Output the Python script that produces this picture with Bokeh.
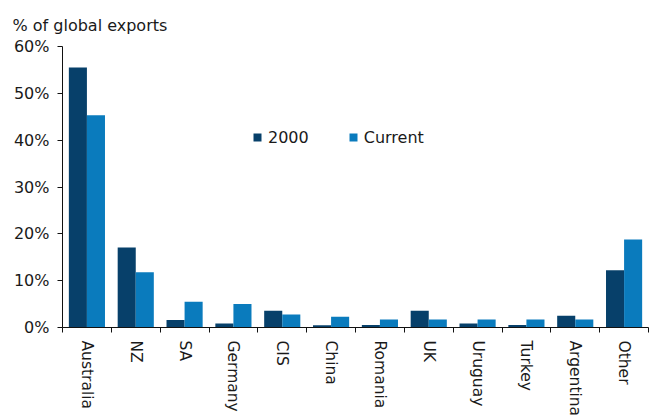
from bokeh.plotting import figure
from bokeh.models import (Range1d, LinearAxis, FixedTicker,
                          PrintfTickFormatter, Legend, LegendItem, ColumnDataSource)
from bokeh.embed import file_html
from bokeh.resources import INLINE

title_text = "% of global exports"
categories = ["Australia", "NZ", "SA", "Germany", "CIS", "China", "Romania", "UK",
              "Uruguay", "Turkey", "Argentina", "Other"]
values_2000 = [55.5, 17.1, 1.6, 0.85, 3.6, 0.5, 0.55, 3.6, 0.85, 0.55, 2.5, 12.2]
values_current = [45.3, 11.8, 5.5, 5.0, 2.8, 2.3, 1.7, 1.7, 1.7, 1.7, 1.7, 18.8]
y_ticks = [0, 10, 20, 30, 40, 50, 60]

C2000 = "#07406A"
CCUR = "#0A7BBD"
FONT = "DejaVu Sans"
TXT = "#1a1a1a"

n = len(categories)
centers = [i + 0.5 for i in range(n)]
BW = 0.37
src = ColumnDataSource(dict(cat=categories, c=centers,
                            x1=[c - BW / 2 for c in centers], x2=[c + BW / 2 for c in centers],
                            v2000=values_2000, vcur=values_current))

p = figure(x_range=Range1d(0, n), y_range=Range1d(0, 60), width=649, height=419,
           output_backend="svg", toolbar_location=None, x_axis_location=None,
           min_border_left=62, min_border_right=1, min_border_top=46, min_border_bottom=92)

p.title.text = title_text
p.title.align = "left"
p.title.offset = -50
p.title.standoff = 24
p.title.text_font = FONT
p.title.text_font_size = "16px"
p.title.text_font_style = "normal"
p.title.text_color = TXT

cat_axis = LinearAxis(ticker=FixedTicker(ticks=centers, minor_ticks=list(range(n + 1))),
                      major_label_overrides={c: name for c, name in zip(centers, categories)},
                      major_tick_line_color=None, major_tick_out=0, major_tick_in=0,
                      minor_tick_out=5, minor_tick_in=0, minor_tick_line_color="#111111",
                      axis_line_color="#111111", major_label_orientation="vertical",
                      major_label_standoff=8, major_label_text_font=FONT,
                      major_label_text_font_size="15.5px", major_label_text_color=TXT)
p.add_layout(cat_axis, "below")

r1 = p.vbar(x="x1", top="v2000", width=BW, source=src, fill_color=C2000, line_color=None)
r2 = p.vbar(x="x2", top="vcur", width=BW, source=src, fill_color=CCUR, line_color=None)

p.yaxis.ticker = FixedTicker(ticks=y_ticks)
p.yaxis.formatter = PrintfTickFormatter(format="%d%%")
p.yaxis.major_tick_out = 5
p.yaxis.major_tick_in = 0
p.yaxis.minor_tick_line_color = None
p.yaxis.major_label_standoff = 8
p.yaxis.major_label_text_font = FONT
p.yaxis.major_label_text_font_size = "16px"
p.yaxis.major_label_text_color = TXT
p.yaxis.axis_line_color = "#111111"
p.yaxis.major_tick_line_color = "#111111"

p.xgrid.grid_line_color = None
p.ygrid.grid_line_color = None
p.outline_line_color = None

legend = Legend(items=[LegendItem(label="2000", renderers=[r1]),
                       LegendItem(label="Current", renderers=[r2])],
                orientation="horizontal", location=(190, 180),
                padding=0, margin=0, spacing=39, label_standoff=6,
                glyph_width=10, glyph_height=10, label_height=20,
                label_text_font=FONT, label_text_font_size="16px", label_text_color=TXT,
                border_line_color=None, background_fill_alpha=0)
p.add_layout(legend, "center")

open("out.html", "w").write(file_html(p, INLINE))
